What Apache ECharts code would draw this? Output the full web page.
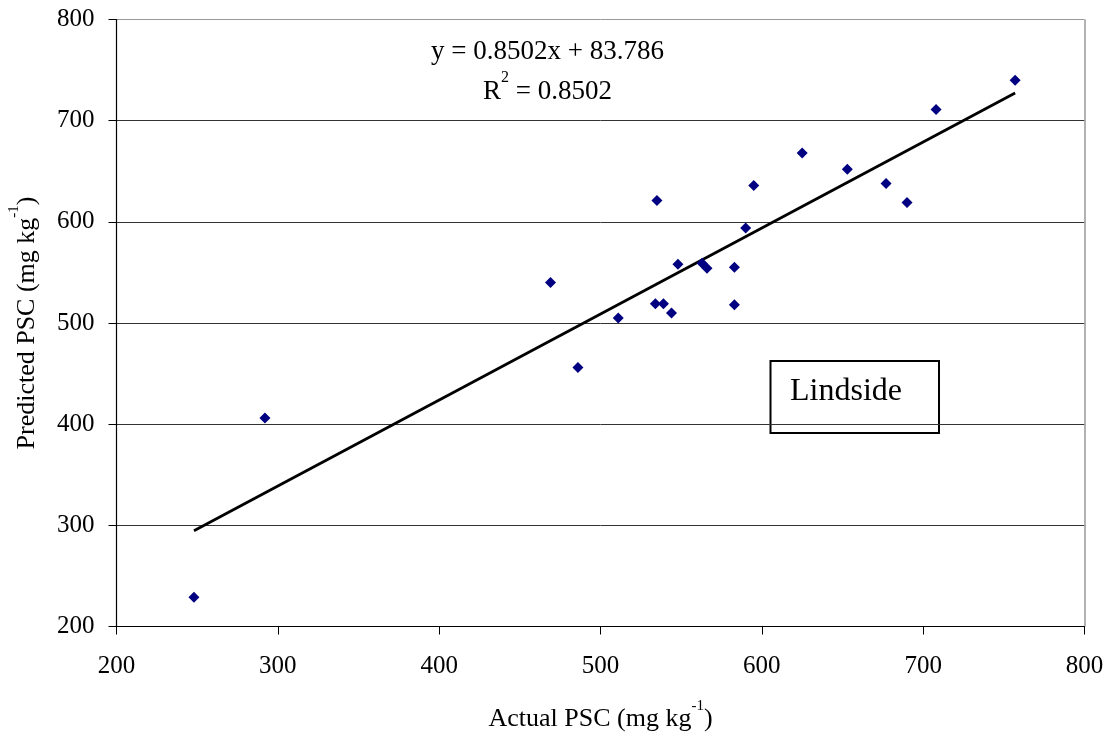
<!DOCTYPE html>
<html>
<head>
<meta charset="utf-8">
<script src="https://cdn.jsdelivr.net/npm/echarts@6/dist/echarts.min.js"></script>
<style>
  html, body { margin: 0; padding: 0; background: #fff; }
  #chart { width: 1114px; height: 738px; }
</style>
</head>
<body>
<div id="chart"></div>
<script>
// measured points (actual vs predicted PSC)
var actualPSC = [248, 292, 486, 469, 757, 708, 625, 653, 677, 595, 690, 535, 590, 548, 563, 566, 583, 534, 539, 544, 583, 511];
var predictedPSC = [229, 406, 456, 540, 740, 711, 668, 652, 638, 636, 619, 621, 594, 558, 559, 554, 555, 519, 519, 510, 518, 505];

// trend line ends
var trendX = [248, 757];
var trendY = [294.6, 727.4];

var xTicks = [200, 300, 400, 500, 600, 700, 800];
var yTicks = [200, 300, 400, 500, 600, 700, 800];

var serif = 'Liberation Serif, Times New Roman, serif';
var myChart = echarts.init(document.getElementById('chart'));

// rich styles for "mg kg-1" superscript
var nameRich = {
    n: { fontFamily: serif, fontSize: 26, color: '#000', verticalAlign: 'bottom', lineHeight: 34 },
    sup: { fontFamily: serif, fontSize: 15, color: '#000', verticalAlign: 'top', lineHeight: 15 }
};

var option = {
    backgroundColor: '#fff',
    animation: false,
    textStyle: { fontFamily: serif, color: '#000' },
    grid: { left: 116.5, right: 29.5, top: 19.5, bottom: 111.5, outerBoundsMode: 'none', containLabel: false },
    xAxis: {
        type: 'value',
        min: xTicks[0],
        max: xTicks[xTicks.length - 1],
        interval: 100,
        name: '{n|Actual PSC (mg kg}{sup|-1}{n|)}',
        nameLocation: 'middle',
        nameGap: 72,
        nameTextStyle: { rich: nameRich },
        axisLine: { show: true, onZero: false, lineStyle: { color: '#000', width: 1.2 } },
        axisTick: { show: true, inside: false, length: 8, lineStyle: { color: '#000' } },
        axisLabel: { fontFamily: serif, fontSize: 25, color: '#000', margin: 27 },
        splitLine: {
            show: true,
            lineStyle: { color: ['transparent', 'transparent', 'transparent', 'transparent', 'transparent', 'transparent', '#999'], width: 1.5 }
        }
    },
    yAxis: {
        type: 'value',
        min: yTicks[0],
        max: yTicks[yTicks.length - 1],
        interval: 100,
        name: '{n|Predicted PSC (mg kg}{sup|-1}{n|)}',
        nameLocation: 'middle',
        nameGap: 76,
        nameTextStyle: { rich: nameRich },
        axisLine: { show: true, onZero: false, lineStyle: { color: '#000', width: 1.2 } },
        axisTick: { show: true, inside: false, length: 8, lineStyle: { color: '#000' } },
        axisLabel: { fontFamily: serif, fontSize: 25, color: '#000', margin: 22 },
        splitLine: {
            show: true,
            lineStyle: { color: ['#000', '#333', '#333', '#333', '#333', '#333', '#999'], width: 1 }
        }
    },
    series: [
        {
            type: 'line',
            data: trendX.map(function (x, i) { return [x, trendY[i]]; }),
            symbol: 'none',
            lineStyle: { color: '#000', width: 2.8 },
            z: 2
        },
        {
            type: 'scatter',
            data: actualPSC.map(function (x, i) { return [x, predictedPSC[i]]; }),
            symbol: 'diamond',
            symbolSize: 11,
            itemStyle: { color: '#000080', opacity: 1 },
            z: 3
        }
    ],
    graphic: [
        {
            type: 'text', left: 431, top: 38,
            style: { text: 'y = 0.8502x + 83.786', font: '27px ' + serif, fill: '#000' }
        },
        {
            type: 'text', left: 483, top: 70,
            style: {
                text: '{n|R}{sup|2}{n| = 0.8502}',
                rich: {
                    n: { fontSize: 27, fontFamily: serif, fill: '#000', verticalAlign: 'bottom', lineHeight: 35 },
                    sup: { fontSize: 16, fontFamily: serif, fill: '#000', verticalAlign: 'top', lineHeight: 16 }
                }
            }
        },
        {
            type: 'rect', left: 769.5, top: 360,
            shape: { width: 168.5, height: 72 },
            style: { fill: '#fff', stroke: '#000', lineWidth: 2 }
        },
        {
            type: 'text', left: 790, top: 376,
            style: { text: 'Lindside', font: '32px ' + serif, fill: '#000' }
        }
    ]
};

myChart.setOption(option);

window.onresize = function () {
    myChart.resize();
};
</script>
</body>
</html>
